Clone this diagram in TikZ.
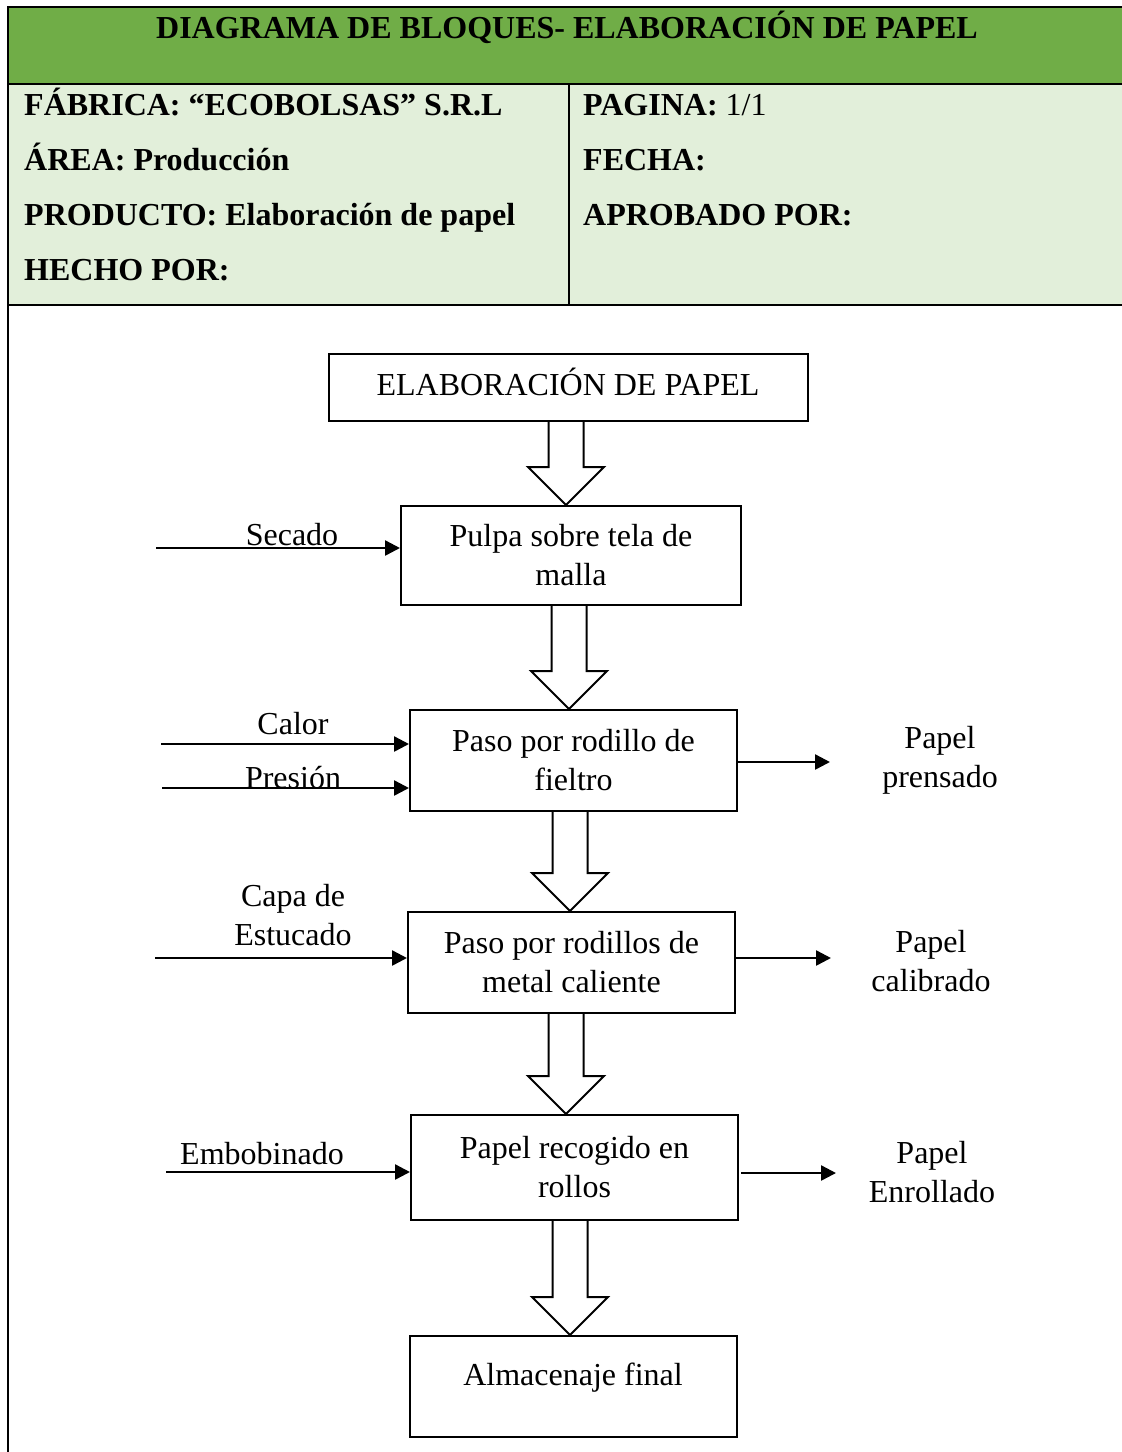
\documentclass[tikz,border=0pt]{standalone}
\usepackage{fontspec}
\setmainfont{Liberation Serif}
\usetikzlibrary{arrows.meta,calc}
\definecolor{hdrgreen}{HTML}{70AD47}
\definecolor{lightgreen}{HTML}{E2EFDA}
\newcommand\barrow[3]{%
  \draw[blk] let \p1=(#1.south), \p2=(#2.north) in
    (\x2+#3pt-17.5pt,\y1) -- (\x2+#3pt-17.5pt,\y2+38pt) -- (\x2+#3pt-38pt,\y2+38pt)
    -- (\x2+#3pt,\y2) -- (\x2+#3pt+38pt,\y2+38pt) -- (\x2+#3pt+17.5pt,\y2+38pt)
    -- (\x2+#3pt+17.5pt,\y1);}
\begin{document}
\begin{tikzpicture}[x=1pt,y=-1pt,
  every node/.style={font=\fontsize{32}{39}\selectfont, inner sep=0pt},
  box/.style={draw, line width=2pt, align=center},
  hdr/.style={font=\fontsize{32}{39}\selectfont\bfseries, anchor=base west},
  lbl/.style={align=center},
  flow/.style={line width=2.5pt, -{Triangle[length=15pt,width=15pt]}},
  blk/.style={draw, line width=2pt, line join=miter},
  frame/.style={line width=2pt}]
\useasboundingbox (0,0) rectangle (1122,1452);
\fill[white] (0,0) rectangle (1122,1452);
% header table
\fill[hdrgreen] (8,7) rectangle (1122,84);
\fill[lightgreen] (8,84) rectangle (1122,305);
\draw[frame] (1122,7) -- (8,7) -- (8,1452);
\draw[frame] (8,84) -- (1122,84);
\draw[frame] (8,305) -- (1122,305);
\draw[frame] (569,84) -- (569,305);
\node[font=\fontsize{32}{39}\selectfont\bfseries, anchor=base] (title) at (567,38) {DIAGRAMA DE BLOQUES- ELABORACIÓN DE PAPEL};
\node[hdr] (fab) at (24,115) {FÁBRICA: “ECOBOLSAS” S.R.L};
\node[hdr] (area) at (24,170) {ÁREA: Producción};
\node[hdr] (prod) at (24,225) {PRODUCTO: Elaboración de papel};
\node[hdr] (hecho) at (24,280) {HECHO POR:};
\node[hdr] (pag) at (583,115) {PAGINA: \mdseries 1/1};
\node[hdr] (fecha) at (583,170) {FECHA:};
\node[hdr] (aprob) at (583,225) {APROBADO POR:};
% boxes
\node[box, minimum width=479, minimum height=67] (b0) at (568.5,387.5) {};
\node[anchor=base] (b0t) at (568,395) {ELABORACIÓN DE PAPEL};
\node[box, minimum width=340, minimum height=99] (b1) at (571,555.5) {Pulpa sobre tela de\\malla};
\node[box, minimum width=327, minimum height=101] (b2) at (573.5,760.5) {Paso por rodillo de\\fieltro};
\node[box, minimum width=327, minimum height=101] (b3) at (571.5,962.5) {Paso por rodillos de\\metal caliente};
\node[box, minimum width=327, minimum height=105] (b4) at (574.5,1167.5) {Papel recogido en\\rollos};
\node[box, minimum width=327, minimum height=101] (b5) at (573.5,1386.5) {};
\node (b5t) at (573,1378) {Almacenaje final};
% block arrows
\barrow{b0}{b1}{-5}
\barrow{b1}{b2}{-4.5}
\barrow{b2}{b3}{-1.5}
\barrow{b3}{b4}{-8.5}
\barrow{b4}{b5}{-3.5}
% inputs
\coordinate (i1) at (156,548);
\coordinate (i2) at (161,744);
\coordinate (i3) at (162,788);
\coordinate (i4) at (155,958);
\coordinate (i5) at (166,1172);
\draw[flow] (i1) -- (i1 -| b1.west);
\draw[flow] (i2) -- (i2 -| b2.west);
\draw[flow] (i3) -- (i3 -| b2.west);
\draw[flow] (i4) -- (i4 -| b3.west);
\draw[flow] (i5) -- (i5 -| b4.west);
\node[anchor=base] (l1) at (292,545) {Secado};
\node[anchor=base] (l2) at (293,734) {Calor};
\node[anchor=base] (l3) at (293,788) {Presión};
\node[lbl] (l4) at (293,915) {Capa de\\Estucado};
\node[anchor=base] (l5) at (262,1164) {Embobinado};
% outputs
\coordinate (o2) at (830,762);
\coordinate (o3) at (831,958);
\coordinate (o4) at (836,1173);
\draw[flow] (b2.east |- o2) -- (o2);
\draw[flow] (b3.east |- o3) -- (o3);
\draw[flow] (b4.east |- o4) ++(2,0) -- (o4);
\node[lbl] (r2) at (940,760) {Papel\\prensado};
\node[lbl] (r3) at (931,961) {Papel\\calibrado};
\node[lbl] (r4) at (932,1172) {Papel\\Enrollado};
\end{tikzpicture}
\end{document}
